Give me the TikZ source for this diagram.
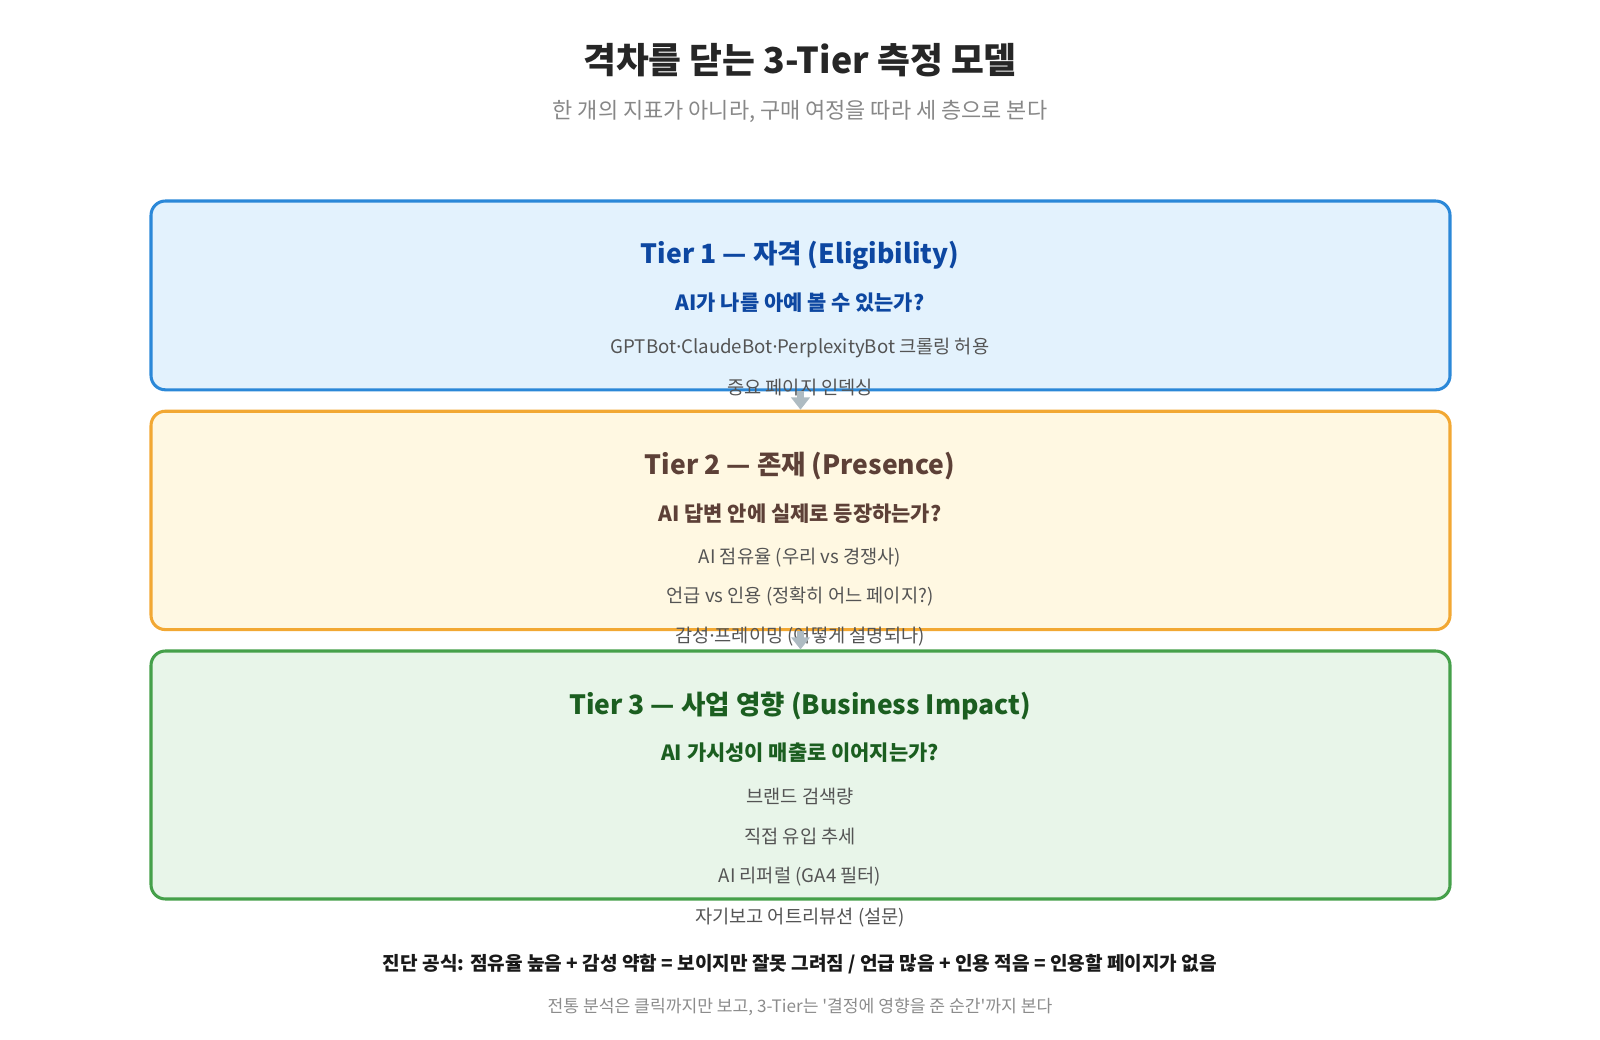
\documentclass[tikz,border=0pt]{standalone}
\usepackage{fontspec}
\setmainfont{Noto Sans CJK KR}[Ligatures=TeXOff]
\newfontfamily\latinh{Noto Sans}
\usepackage{xcolor}
\definecolor{t1vien}{HTML}{2B88D8}
\definecolor{t1nen}{HTML}{E3F2FD}
\definecolor{t1chu}{HTML}{0D47A1}
\definecolor{t2vien}{HTML}{F2A833}
\definecolor{t2nen}{HTML}{FFF8E2}
\definecolor{t2chu}{HTML}{5D4037}
\definecolor{t3vien}{HTML}{45A04A}
\definecolor{t3nen}{HTML}{E8F5E9}
\definecolor{t3chu}{HTML}{1B5E20}
\definecolor{muixam}{HTML}{AEBBC2}
\def\chumuc{black!67}
\def\cham{{\latinh ·}}
\usetikzlibrary{arrows.meta,positioning}
\begin{document}
\begin{tikzpicture}[x=1pt,y=-1pt,
	tang/.style={draw=#1,line width=3pt,rounded corners=14pt,minimum width=1273pt,inner sep=0pt},
	muc/.style={text=\chumuc,font=\fontsize{18.3}{21}\selectfont,inner sep=0pt},
	tieude/.style={text=#1,font=\fontsize{26}{30}\selectfont\bfseries,inner sep=0pt},
	cauhoi/.style={text=#1,font=\fontsize{20.5}{24}\selectfont\bfseries,inner sep=0pt},
	muiten/.style={draw=muixam,line width=7pt,-{Triangle[length=12pt,width=18pt]}}]
	\useasboundingbox (0,0) rectangle (1568,1019);
	%%Tiêu đề chung%%
	\node[font=\fontsize{35}{40}\selectfont\bfseries,text=black!85,inner sep=0pt] (tieude) at (784,59) {격차를 닫는 3-Tier 측정 모델};
	\node[font=\fontsize{21.5}{25}\selectfont,text=black!47,inner sep=0pt] (phude) at (784,109) {한 개의 지표가 아니라, 구매 여정을 따라 세 층으로 본다};
	%%%Vẽ ba khung tầng
	\node[tang=t1vien,fill=t1nen,minimum height=185pt] (tier1) at (784.5,289.5) {};
	\node[tang=t2vien,fill=t2nen,minimum height=214pt] (tier2) at (784.5,510) {};
	\node[tang=t3vien,fill=t3nen,minimum height=243pt] (tier3) at (784.5,759.5) {};
	%%%Tầng 1
	\node[tieude=t1chu] (tt1) at (784,250) {Tier 1 — 자격 (Eligibility)};
	\node[cauhoi=t1chu] (ch1) at (784,297) {AI가 나를 아예 볼 수 있는가?};
	\foreach [count=\i from 1] \y/\t in {341/GPTBot\cham ClaudeBot\cham PerplexityBot 크롤링 허용,380/중요 페이지 인덱싱}{%
		\node[muc] (m1-\i) at (784,\y) {\t};
	}
	%%%Tầng 2
	\node[tieude=t2chu] (tt2) at (784,457) {Tier 2 — 존재 (Presence)};
	\node[cauhoi=t2chu] (ch2) at (784,503) {AI 답변 안에 실제로 등장하는가?};
	\foreach [count=\i from 1] \y/\t in {546/AI 점유율 (우리 vs 경쟁사),585/언급 vs 인용 (정확히 어느 페이지?),624/감성\cham 프레이밍 (어떻게 설명되나)}{%
		\node[muc] (m2-\i) at (784,\y) {\t};
	}
	%%%Tầng 3
	\node[tieude=t3chu] (tt3) at (784,692) {Tier 3 — 사업 영향 (Business Impact)};
	\node[cauhoi=t3chu] (ch3) at (784,738) {AI 가시성이 매출로 이어지는가?};
	\foreach [count=\i from 1] \y/\t in {781/브랜드 검색량,820/직접 유입 추세,859/AI 리퍼럴 (GA4 필터),899/자기보고 어트리뷰션 (설문)}{%
		\node[muc] (m3-\i) at (784,\y) {\t};
	}
	%%%Mũi tên nối các tầng
	\draw[muiten] (tier1.south) -- (tier2.north);
	\draw[muiten] (tier2.south) -- (tier3.north);
	%%Công thức và chú thích cuối%%
	\node[font=\fontsize{18.7}{22}\selectfont\bfseries,text=black!90,inner sep=0pt] (congthuc) at (784,945) {진단 공식: 점유율 높음 + 감성 약함 = 보이지만 잘못 그려짐 / 언급 많음 + 인용 적음 = 인용할 페이지가 없음};
	\node[font=\fontsize{16.8}{20}\selectfont,text=black!45,inner sep=0pt] (chuthich) at (784,987) {전통 분석은 클릭까지만 보고, 3-Tier는 '결정에 영향을 준 순간'까지 본다};
\end{tikzpicture}
\end{document}
